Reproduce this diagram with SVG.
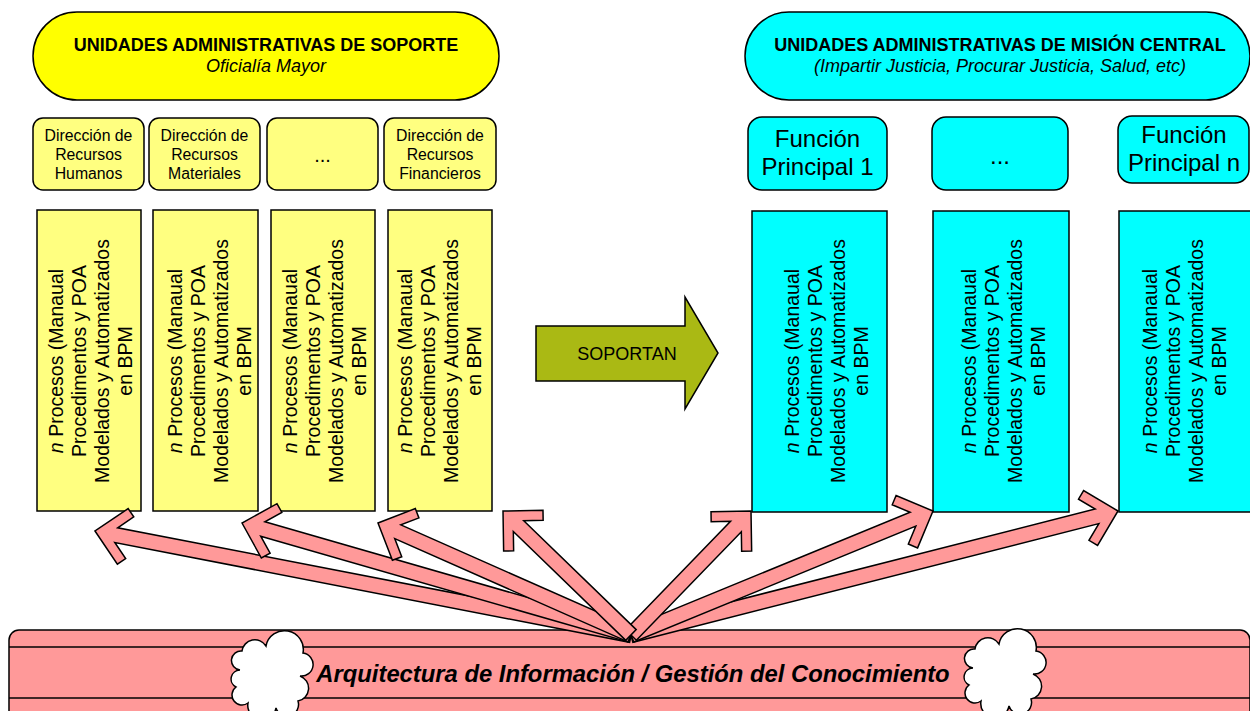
<svg xmlns="http://www.w3.org/2000/svg" width="1250" height="711" viewBox="0 0 1250 711">
<style>
text{font-family:"Liberation Sans",Arial,sans-serif;fill:#000}
.ln{stroke:#000;stroke-width:1.5}
.pillY{fill:#FFFF00}
.lyel{fill:#FFFF80}
.cy{fill:#00FFFF}
.t17{font-size:18px;text-anchor:middle}
.b{font-weight:bold}
.i{font-style:italic}
.dir{font-size:15.8px;text-anchor:middle}
.fn{font-size:24px;text-anchor:middle}
.proc{font-size:19.5px;text-anchor:middle}
.arw{fill:#FF9999;stroke:#000;stroke-width:1.5;stroke-linejoin:miter}
.band{fill:#FF9999;stroke:#000;stroke-width:1.5}
.cloud{fill:#FFFFFF;stroke:#000;stroke-width:1.5}
</style>
<defs>
<path id="cloudShape" d="M7,34 A9 9 0 0 1 9,15 A13 13 0 0 1 33,10 A18 18 0 0 1 70,17 A11 11 0 0 1 67,40 A13 13 0 0 1 65,65 A11 11 0 0 1 43,72 A14 14 0 0 1 15,67 A10 10 0 0 1 3,51 A9 9 0 0 1 7,34 Z"/>
</defs>

<g id="soporte-header">
<rect class="pillY ln" x="33" y="12" width="466" height="88" rx="44"/>
<text class="t17 b" x="266" y="51">UNIDADES ADMINISTRATIVAS DE SOPORTE</text>
<text class="t17 i" x="266" y="72">Oficialía Mayor</text>
</g>

<g id="mision-header">
<rect class="cy ln" x="745" y="12" width="505" height="88" rx="44"/>
<text class="t17 b" x="1000" y="51">UNIDADES ADMINISTRATIVAS DE MISIÓN CENTRAL</text>
<text class="t17 i" x="1000" y="72">(Impartir Justicia, Procurar Justicia, Salud, etc)</text>
</g>

<g id="dir-rh">
<rect class="lyel ln" x="33" y="118" width="111" height="72" rx="10"/>
<text class="dir"><tspan x="88.5" y="141">Dirección de</tspan><tspan x="88.5" y="160">Recursos</tspan><tspan x="88.5" y="179">Humanos</tspan></text>
</g>
<g id="dir-rm">
<rect class="lyel ln" x="149" y="118" width="111" height="72" rx="10"/>
<text class="dir"><tspan x="204.5" y="141">Dirección de</tspan><tspan x="204.5" y="160">Recursos</tspan><tspan x="204.5" y="179">Materiales</tspan></text>
</g>
<g id="dir-etc">
<rect class="lyel ln" x="267" y="118" width="111" height="72" rx="10"/>
<text class="dir" style="font-size:20px" x="322.5" y="162">...</text>
</g>
<g id="dir-rf">
<rect class="lyel ln" x="384" y="118" width="112" height="72" rx="10"/>
<text class="dir"><tspan x="440" y="141">Dirección de</tspan><tspan x="440" y="160">Recursos</tspan><tspan x="440" y="179">Financieros</tspan></text>
</g>

<g id="fn-1">
<rect class="cy ln" x="748" y="117" width="139" height="73" rx="14"/>
<text class="fn"><tspan x="817.5" y="147">Función</tspan><tspan x="817.5" y="175">Principal 1</tspan></text>
</g>
<g id="fn-etc">
<rect class="cy ln" x="932" y="117" width="136" height="73" rx="14"/>
<text class="fn" x="1000" y="164">...</text>
</g>
<g id="fn-n">
<rect class="cy ln" x="1118" y="116" width="131" height="67" rx="14"/>
<text class="fn"><tspan x="1184" y="143">Función</tspan><tspan x="1184" y="171">Principal n</tspan></text>
</g>

<g id="proc-y1">
<rect class="lyel ln" x="37" y="210" width="104" height="301"/>
<text class="proc" transform="translate(89,361) rotate(-90)"><tspan x="0" y="-26"><tspan class="i">n</tspan> Procesos (Manaual</tspan><tspan x="0" y="-3">Procedimentos y POA</tspan><tspan x="0" y="20">Modelados y Automatizados</tspan><tspan x="0" y="43">en BPM</tspan></text>
</g>
<g id="proc-y2">
<rect class="lyel ln" x="153" y="210" width="105" height="301"/>
<text class="proc" transform="translate(208,361) rotate(-90)"><tspan x="0" y="-26"><tspan class="i">n</tspan> Procesos (Manaual</tspan><tspan x="0" y="-3">Procedimentos y POA</tspan><tspan x="0" y="20">Modelados y Automatizados</tspan><tspan x="0" y="43">en BPM</tspan></text>
</g>
<g id="proc-y3">
<rect class="lyel ln" x="271" y="210" width="104" height="301"/>
<text class="proc" transform="translate(323,361) rotate(-90)"><tspan x="0" y="-26"><tspan class="i">n</tspan> Procesos (Manaual</tspan><tspan x="0" y="-3">Procedimentos y POA</tspan><tspan x="0" y="20">Modelados y Automatizados</tspan><tspan x="0" y="43">en BPM</tspan></text>
</g>
<g id="proc-y4">
<rect class="lyel ln" x="388" y="210" width="104" height="301"/>
<text class="proc" transform="translate(438,361) rotate(-90)"><tspan x="0" y="-26"><tspan class="i">n</tspan> Procesos (Manaual</tspan><tspan x="0" y="-3">Procedimentos y POA</tspan><tspan x="0" y="20">Modelados y Automatizados</tspan><tspan x="0" y="43">en BPM</tspan></text>
</g>

<g id="proc-c1">
<rect class="cy ln" x="752" y="211" width="135" height="301"/>
<text class="proc" transform="translate(825,361) rotate(-90)"><tspan x="0" y="-26"><tspan class="i">n</tspan> Procesos (Manaual</tspan><tspan x="0" y="-3">Procedimentos y POA</tspan><tspan x="0" y="20">Modelados y Automatizados</tspan><tspan x="0" y="43">en BPM</tspan></text>
</g>
<g id="proc-c2">
<rect class="cy ln" x="933" y="211" width="136" height="301"/>
<text class="proc" transform="translate(1002,361) rotate(-90)"><tspan x="0" y="-26"><tspan class="i">n</tspan> Procesos (Manaual</tspan><tspan x="0" y="-3">Procedimentos y POA</tspan><tspan x="0" y="20">Modelados y Automatizados</tspan><tspan x="0" y="43">en BPM</tspan></text>
</g>
<g id="proc-c3">
<rect class="cy ln" x="1119" y="211" width="135" height="301"/>
<text class="proc" transform="translate(1183,361) rotate(-90)"><tspan x="0" y="-26"><tspan class="i">n</tspan> Procesos (Manaual</tspan><tspan x="0" y="-3">Procedimentos y POA</tspan><tspan x="0" y="20">Modelados y Automatizados</tspan><tspan x="0" y="43">en BPM</tspan></text>
</g>

<g id="soportan">
<polygon points="536,326 685,326 685,297 718,353 685,409 685,381 536,381" fill="#AAB914" stroke="#000" stroke-width="1.5"/>
<text class="t17" x="627" y="360">SOPORTAN</text>
</g>

<g id="arquitectura">
<rect class="band" x="9" y="630" width="1241" height="100" rx="10"/>
<line class="ln" x1="9" y1="647" x2="1250" y2="647"/>
<line class="ln" x1="9" y1="698" x2="1250" y2="698"/>
<use href="#cloudShape" class="cloud" transform="translate(233,636)"/>
<use href="#cloudShape" class="cloud" transform="translate(966,634)"/>
<text x="633" y="682" style="font-size:23.8px;font-weight:bold;font-style:italic;text-anchor:middle">Arquitectura de Información / Gestión del Conocimiento</text>
</g>

<g id="connectors">
<polygon class="arw" transform="translate(95,531) rotate(-169.02)" points="0,0 -28.28,-28.28 -35.36,-21.21 -21.64,-7.5 -546,-7.5 -546,7.5 -21.64,7.5 -35.36,21.21 -28.28,28.28"/>
<polygon class="arw" transform="translate(242,523) rotate(-163.94)" points="0,0 -28.28,-28.28 -35.36,-21.21 -21.64,-7.5 -404.8,-7.5 -404.8,7.5 -21.64,7.5 -35.36,21.21 -28.28,28.28"/>
<polygon class="arw" transform="translate(378,523) rotate(-156.12)" points="0,0 -28.28,-28.28 -35.36,-21.21 -21.64,-7.5 -276.7,-7.5 -276.7,7.5 -21.64,7.5 -35.36,21.21 -28.28,28.28"/>
<polygon class="arw" transform="translate(1118,511) rotate(-14.28)" points="0,0 -28.28,-28.28 -35.36,-21.21 -21.64,-7.5 -502.5,-7.5 -502.5,7.5 -21.64,7.5 -35.36,21.21 -28.28,28.28"/>
<polygon class="arw" transform="translate(933,511) rotate(-22.32)" points="0,0 -28.28,-28.28 -35.36,-21.21 -21.64,-7.5 -326.5,-7.5 -326.5,7.5 -21.64,7.5 -35.36,21.21 -28.28,28.28"/>
<polygon class="arw" transform="translate(751,511) rotate(-45.94)" points="0,0 -28.28,-28.28 -35.36,-21.21 -21.64,-7.5 -172.6,-7.5 -172.6,7.5 -21.64,7.5 -35.36,21.21 -28.28,28.28"/>
<polygon class="arw" transform="translate(503,511) rotate(-135.91)" points="0,0 -28.28,-28.28 -35.36,-21.21 -21.64,-7.5 -178.2,-7.5 -178.2,7.5 -21.64,7.5 -35.36,21.21 -28.28,28.28"/>
</g>
</svg>
